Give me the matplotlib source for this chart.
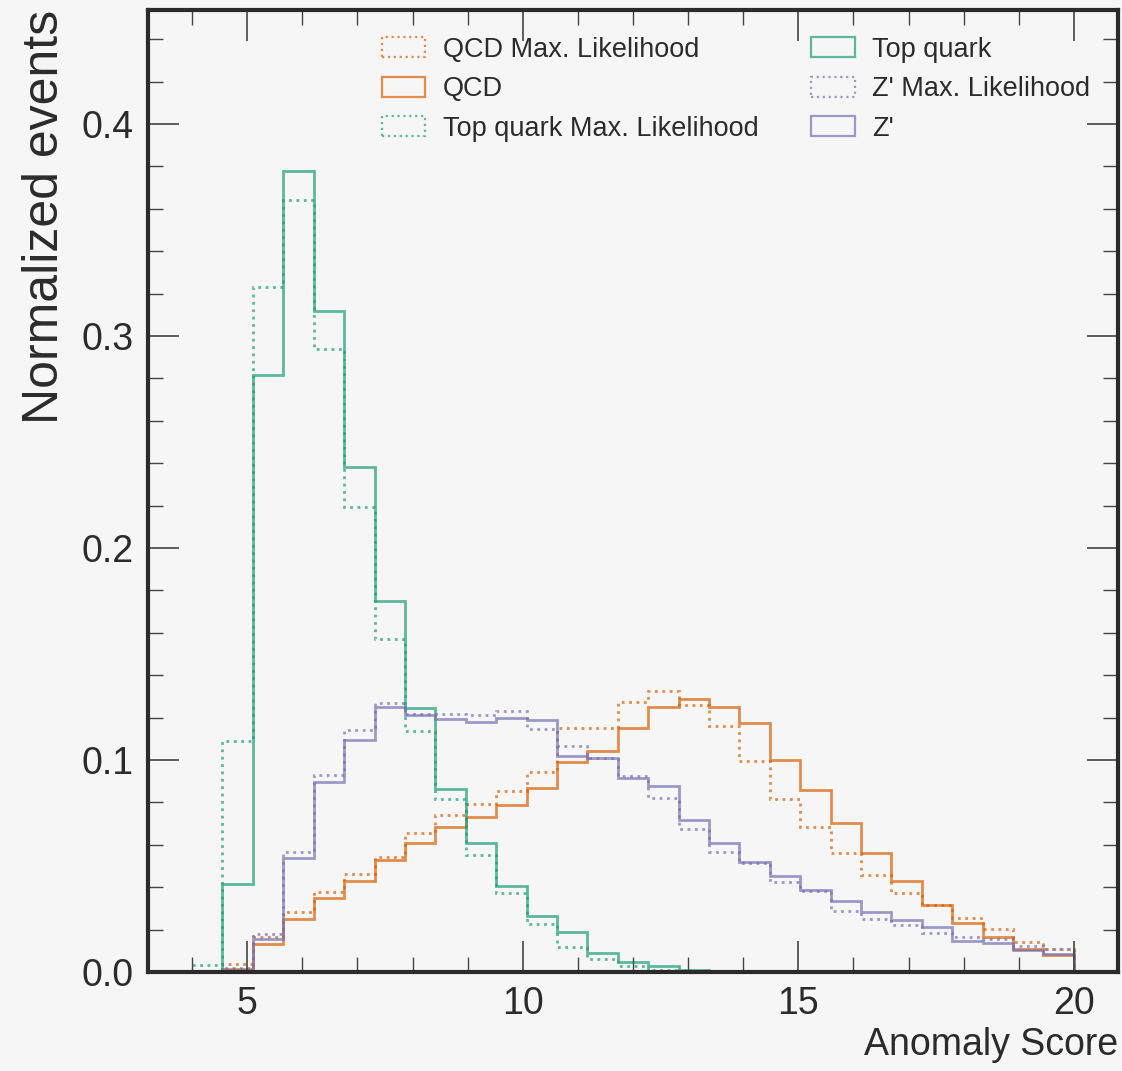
import numpy as np
import matplotlib
matplotlib.use("Agg")
import matplotlib.pyplot as plt
from matplotlib.ticker import MultipleLocator
from matplotlib.patches import Patch

plt.rcParams['font.family'] = ['Liberation Sans', 'DejaVu Sans']

# bin edges of the anomaly score histograms
edges = np.linspace(4, 20, 30)

top = [0.0, 0.0416, 0.2815, 0.378, 0.312, 0.238, 0.175, 0.1247, 0.0863, 0.0607,
       0.0406, 0.0266, 0.0187, 0.0088, 0.0046, 0.0028, 0.001, 0.0004, 0, 0,
       0, 0, 0, 0, 0, 0, 0, 0, 0]
top_ml = [0.0033, 0.109, 0.323, 0.364, 0.294, 0.2195, 0.157, 0.1138, 0.0815, 0.055,
          0.0371, 0.0225, 0.0119, 0.006, 0.003, 0.001, 0.0005, 0, 0, 0,
          0, 0, 0, 0, 0, 0, 0, 0, 0]
qcd = [0.0, 0.0013, 0.013, 0.0248, 0.0347, 0.0429, 0.0527, 0.0608, 0.0686, 0.0733,
       0.0786, 0.0866, 0.0991, 0.1042, 0.1153, 0.1248, 0.1286, 0.1252, 0.1173, 0.1,
       0.0858, 0.0704, 0.0562, 0.0429, 0.0315, 0.0233, 0.0167, 0.011, 0.0082]
qcd_ml = [0.0, 0.0038, 0.0167, 0.0282, 0.0379, 0.0461, 0.0544, 0.0658, 0.0739, 0.0791,
          0.0855, 0.0945, 0.1149, 0.115, 0.1275, 0.1325, 0.1259, 0.1162, 0.0994, 0.0816,
          0.0686, 0.0560, 0.046, 0.0374, 0.0315, 0.0253, 0.0203, 0.0142, 0.0108]
zp = [0.0, 0.001, 0.0154, 0.054, 0.0898, 0.1094, 0.1252, 0.1214, 0.1193, 0.1179,
      0.120, 0.1187, 0.102, 0.101, 0.0917, 0.0877, 0.0717, 0.061, 0.0517, 0.0453,
      0.0385, 0.0335, 0.0284, 0.0245, 0.0211, 0.0148, 0.0135, 0.0104, 0.0085]
zp_ml = [0.0, 0.002, 0.0178, 0.0568, 0.0929, 0.1142, 0.1267, 0.1215, 0.1215, 0.1212,
         0.123, 0.1148, 0.1068, 0.101, 0.0925, 0.0819, 0.0673, 0.0566, 0.0512, 0.0423,
         0.0382, 0.0289, 0.025, 0.022, 0.0186, 0.0167, 0.0154, 0.0124, 0.0108]

c_qcd = '#d95f02'
c_top = '#1b9e77'
c_zp = '#7570b3'
bg = '#f6f6f6'
fg = '#2b2b2b'

fig = plt.figure(figsize=(11.22, 10.71), dpi=100, facecolor=bg)
ax = fig.add_axes([0.1319, 0.0924, 0.8645, 0.8983], facecolor=bg)

series = [(qcd_ml, c_qcd, ':', 'QCD Max. Likelihood'),
          (qcd, c_qcd, '-', 'QCD'),
          (top_ml, c_top, ':', 'Top quark Max. Likelihood'),
          (top, c_top, '-', 'Top quark'),
          (zp_ml, c_zp, ':', "Z' Max. Likelihood"),
          (zp, c_zp, '-', "Z'")]
handles = []
for vals, col, ls, lab in series:
    ax.stairs(vals, edges, color=col, linestyle=ls, linewidth=2, alpha=0.7)
    handles.append(Patch(facecolor='none', edgecolor=col, linestyle=ls,
                         linewidth=1.6, alpha=0.7, label=lab))

ax.set_xlim(3.2, 20.8)
ax.set_ylim(0, 0.4538)
ax.xaxis.set_major_locator(MultipleLocator(5))
ax.xaxis.set_minor_locator(MultipleLocator(1))
ax.yaxis.set_major_locator(MultipleLocator(0.1))
ax.yaxis.set_minor_locator(MultipleLocator(0.02))
ax.yaxis.set_major_formatter(matplotlib.ticker.FormatStrFormatter('%.1f'))
ax.tick_params(which='both', direction='in', top=True, right=True, colors='#444444',
               labelcolor=fg, labelsize=27)
ax.tick_params(which='major', length=22, width=1.2, pad=10)
ax.tick_params(which='minor', length=11, width=1.0)
for s in ax.spines.values():
    s.set_linewidth(3)
    s.set_color(fg)

ax.set_xlabel('Anomaly Score', loc='right', fontsize=27, color=fg)
ax.set_ylabel('Normalized events', loc='top', fontsize=36, color=fg, labelpad=10)

ax.legend(handles=handles, ncol=2, loc='upper right', frameon=False, fontsize=19.5,
          labelcolor=fg, handlelength=1.6, handleheight=0.75, handletextpad=0.65,
          columnspacing=1.95, labelspacing=0.5, borderaxespad=0.3,
          bbox_to_anchor=(0.991, 0.992))

fig.savefig('out.png', dpi=100, facecolor=bg)
